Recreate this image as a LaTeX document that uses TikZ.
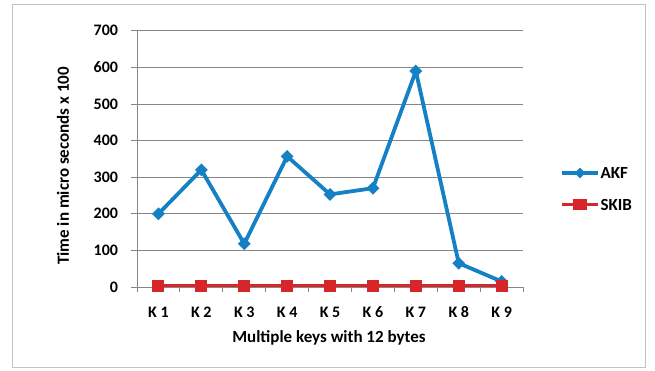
\documentclass[tikz,border=0pt]{standalone}
\usepackage{fontspec}
\setmainfont{Carlito}
\usetikzlibrary{shapes.geometric, calc}

\definecolor{akfblue}{RGB}{22,128,196}
\definecolor{skibred}{RGB}{214,38,42}
\definecolor{gridgray}{RGB}{134,134,134}

\begin{document}
\begin{tikzpicture}[
    x=1pt, y=1pt,
    grid/.style={draw=gridgray, line width=0.9pt},
    ticklabel/.style={font=\fontsize{16}{18}\selectfont\bfseries},
    axistitle/.style={font=\fontsize{17}{19}\selectfont\bfseries},
    akfmark/.style={diamond, fill=akfblue, inner sep=0pt, minimum size=13pt},
    skibmark/.style={rectangle, fill=skibred, inner sep=0pt, minimum size=12pt},
    akfline/.style={akfblue, line width=3.8pt, line join=round},
    skibline/.style={skibred, line width=3pt}
  ]

  \useasboundingbox (0,0) rectangle (655,371);
  \draw[gridgray!50, line width=1pt] (12,3) rectangle (645,366);

  % --- Plot area ---
  \begin{scope}[shift={(137,84)}, x=42.9pt, y=0.366pt]
    \foreach \v in {0,100,...,700} {
      \draw[grid] (-0.14,\v) -- (9,\v);
      \node[ticklabel, anchor=east] (y\v) at (-0.36,\v) {\v};
    }
    \draw[grid] (0,0) -- (0,700);
    \foreach \i in {0,...,9} {
      \draw[grid] (\i,0) -- (\i,-14);
    }
    \foreach \i in {1,...,9} {
      \node[ticklabel] (k\i) at (\i-0.5,-68) {K \i};
    }

    % --- AKF series ---
    \foreach \v [count=\i] in {200,320,118,357,253,270,590,65,15} {
      \coordinate (a\i) at (\i-0.5,\v);
    }
    \draw[akfline] (a1) -- (a2) -- (a3) -- (a4) -- (a5) -- (a6) -- (a7) -- (a8) -- (a9);
    \foreach \i in {1,...,9} {
      \node[akfmark] at (a\i) {};
    }

    % --- SKIB series ---
    \foreach \i in {1,...,9} {
      \coordinate (s\i) at (\i-0.5,3);
    }
    \draw[skibline] (s1) -- (s9);
    \foreach \i in {1,...,9} {
      \node[skibmark] at (s\i) {};
    }
  \end{scope}

  % --- Axis titles ---
  \node[axistitle, rotate=90] (ytitle) at (63,205) {Time in micro seconds  x 100};
  \node[axistitle] (xtitle) at (329,33) {Multiple keys with 12 bytes};

  % --- Legend ---
  \coordinate (la) at (562,198);
  \coordinate (lb) at (598,198);
  \draw[akfline] (la) -- (lb);
  \node[akfmark, minimum size=11pt] at ($(la)!0.5!(lb)$) {};
  \node[axistitle, anchor=west] (akf) at (597,198) {AKF};
  \coordinate (lc) at (562,166);
  \coordinate (ld) at (598,166);
  \draw[skibline] (lc) -- (ld);
  \node[skibmark, minimum width=14pt, minimum height=11pt] at ($(lc)!0.5!(ld)$) {};
  \node[axistitle, anchor=west] (skib) at (597,166) {SKIB};

\end{tikzpicture}
\end{document}
